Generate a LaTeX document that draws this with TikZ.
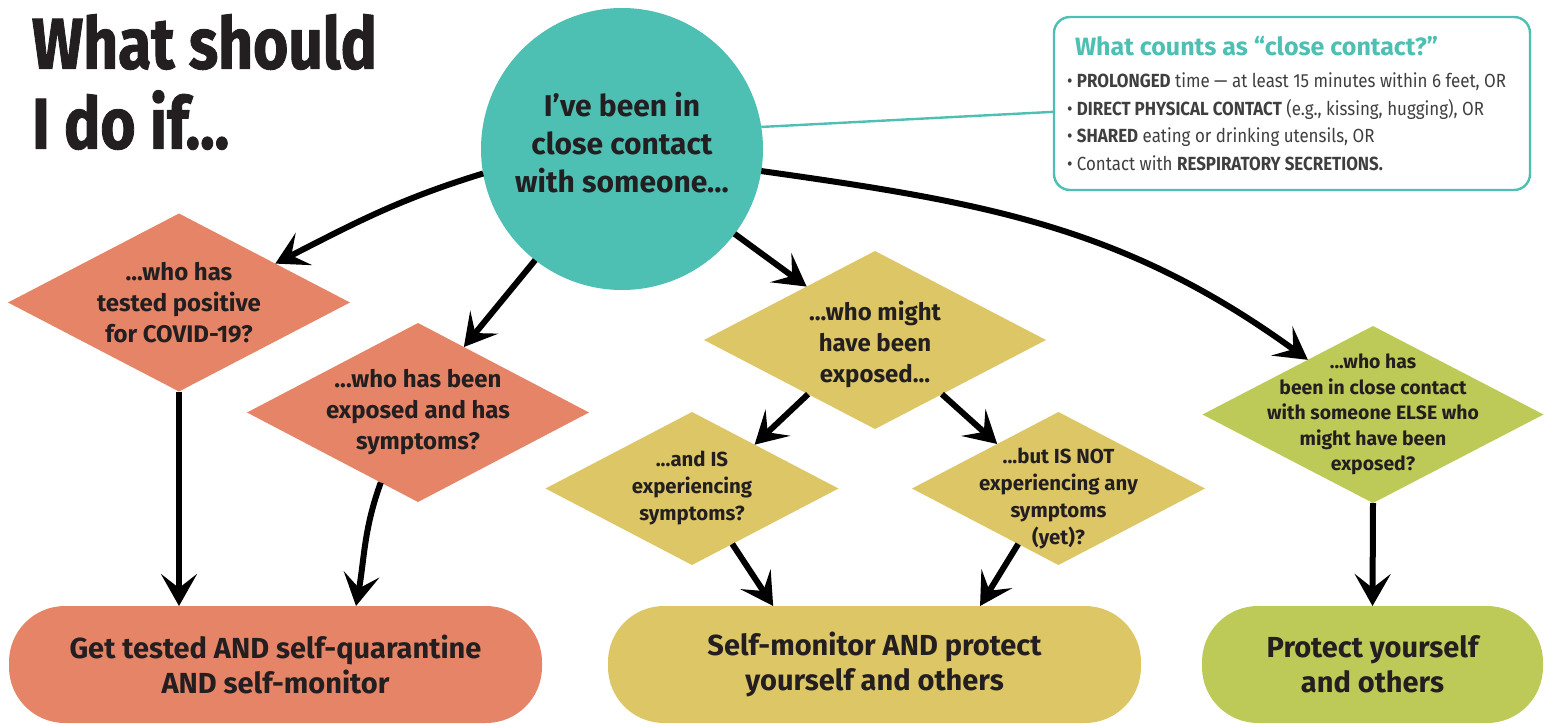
\documentclass[tikz,border=0pt]{standalone}
\usepackage{fontspec}
\setmainfont{Fira Sans}
\newfontfamily\headfont{Fira Sans}[FakeStretch=0.84, FakeBold=1.2]
\newfontfamily\narrowfont{Fira Sans}[FakeStretch=0.89]
\usetikzlibrary{shapes.geometric, arrows.meta, positioning}
\definecolor{covteal}{HTML}{4DBFB3}
\definecolor{covorange}{HTML}{E58466}
\definecolor{covyellow}{HTML}{DDC666}
\definecolor{covgreen}{HTML}{BDCA58}
\definecolor{covgray}{HTML}{3F3F3F}
\definecolor{covink}{HTML}{231F20}
\begin{document}
\begin{tikzpicture}[
    x=0.5pt, y=0.5pt,
    every node/.style={inner sep=0pt, outer sep=0pt, text=covink},
    bubble/.style={circle, fill=covteal, minimum size=141pt},
    bubbletext/.style={align=center, font=\bfseries\fontsize{15}{19}\selectfont},
    ask/.style={diamond, minimum width=171pt, minimum height=89pt},
    smallask/.style={diamond, minimum width=146.5pt, minimum height=76.5pt},
    asktext/.style={align=center, font=\bfseries\fontsize{12}{15.5}\selectfont},
    smalltext/.style={align=center, font=\bfseries\fontsize{10.2}{13.5}\selectfont},
    todo/.style={rectangle, rounded corners=28pt, minimum height=58.5pt, align=center,
        font=\bfseries\fontsize{14.5}{17.5}\selectfont},
    arr/.style={line width=3pt, -{Stealth[length=16pt, width=18pt, inset=7pt]}},
]
\useasboundingbox (0,0) rectangle (1554,725);

\node[anchor=north west, align=left, font=\headfont\bfseries\fontsize{36}{40}\selectfont] (title) at (32,711) {What should\\I do if...};

\node[rectangle, draw=covteal, line width=1.2pt, rounded corners=8pt, minimum width=238pt, minimum height=86.5pt] (info) at (1292,621.5) {};
\node[anchor=base west, text=covteal, font=\bfseries\fontsize{12.5}{14}\selectfont] (infohead) at (1075,669) {What counts as “close contact?”};
\node[anchor=north west, align=left, text=covgray, font=\narrowfont\fontsize{9.5}{13.7}\selectfont] (infolist) at (1067,652) {%
    • \textbf{PROLONGED} time — at least 15 minutes within 6 feet, OR\\
    • \textbf{DIRECT PHYSICAL CONTACT} (e.g., kissing, hugging), OR\\
    • \textbf{SHARED} eating or drinking utensils, OR\\
    • Contact with \textbf{RESPIRATORY SECRETIONS.}};

\node[bubble] (circ) at (622,576) {};
\node[bubbletext, yshift=3pt] (circtxt) at (circ) {I’ve been in\\close contact\\with someone...};

\node[ask, fill=covorange] (tested) at (179,422.5) {};
\node[asktext] (testedtxt) at (tested) {...who has\\tested positive\\for COVID-19?};
\node[ask, fill=covorange, minimum height=89.5pt] (sympt) at (418,312.5) {};
\node[asktext] (symptxt) at (sympt) {...who has been\\exposed and has\\symptoms?};
\node[ask, fill=covyellow] (might) at (875,385) {};
\node[asktext, yshift=-2.25pt] (mighttxt) at (might) {...who might\\have been\\exposed...};
\node[smallask, fill=covyellow] (is) at (692,236.5) {};
\node[smalltext] (istxt) at (is) {...and IS\\experiencing\\symptoms?};
\node[smallask, fill=covyellow] (isnot) at (1058.5,236.5) {};
\node[smalltext, yshift=-5pt] (isnottxt) at (isnot) {...but IS NOT\\experiencing any\\symptoms\\(yet)?};
\node[ask, fill=covgreen, minimum width=170.5pt, minimum height=88.5pt] (other) at (1373,310.5) {};
\node[align=center, font=\bfseries\fontsize{9.7}{12.75}\selectfont] (othertxt) at (other) {...who has\\been in close contact\\with someone ELSE who\\might have been\\exposed?};

\node[todo, fill=covorange, minimum width=266.5pt] (quar) at (275.5,60.5) {Get tested AND self-quarantine\\AND self-monitor};
\node[todo, fill=covyellow, minimum width=266.5pt] (monitor) at (874.5,60.5) {Self-monitor AND protect\\yourself and others};
\node[todo, fill=covgreen, minimum width=170.5pt] (protect) at (1372.5,60.5) {Protect yourself\\and others};

\draw[covteal, line width=1.2pt] (circ.9) -- (info.182);
\draw[arr] (circ.190) to[out=197, in=27] (tested.22);
\draw[arr] (circ.232) -- (sympt.55);
\draw[arr] (circ.323) -- (might.142);
\draw[arr] (circ.351) to[out=-8, in=144] (other.140);
\draw[arr] (might.219) -- (is.35);
\draw[arr] (might.321) -- (isnot.144);
\draw[arr] (tested.south) -- (tested.south |- quar.north);
\draw[arr] (sympt.242) to[out=250, in=80] (quar.36);
\draw[arr] (is.306) -- (monitor.150);
\draw[arr] (isnot.234) -- (monitor.29);
\draw[arr] (other.south) -- (protect.north);
\end{tikzpicture}
\end{document}
